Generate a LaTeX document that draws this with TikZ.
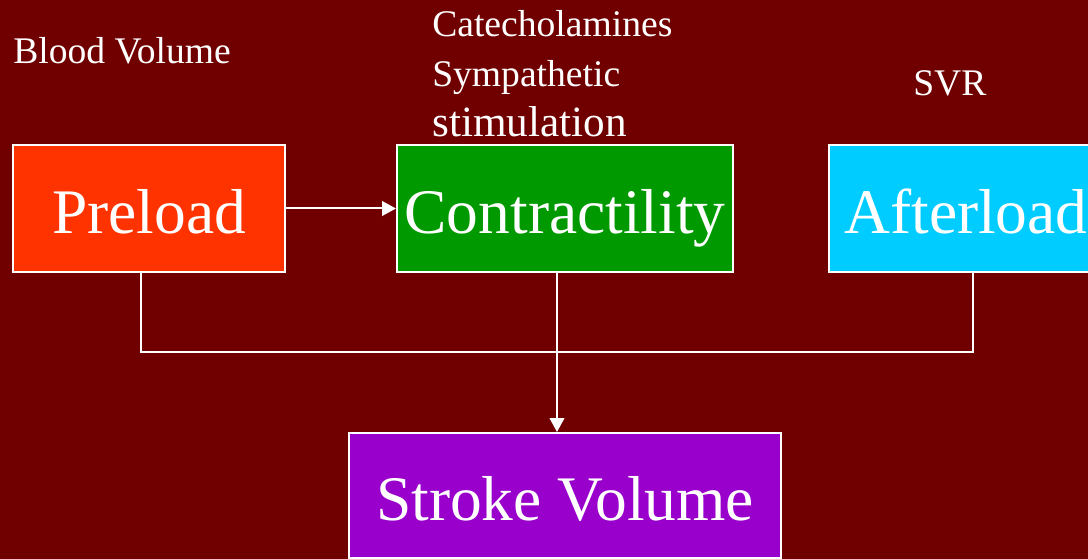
\documentclass[tikz,border=0pt]{standalone}
\usepackage{fontspec}
\setmainfont{Liberation Serif}
\usetikzlibrary{arrows.meta}
\definecolor{slidered}{RGB}{112,0,0}
\definecolor{preorange}{RGB}{255,51,0}
\definecolor{congreen}{RGB}{0,153,0}
\definecolor{aftcyan}{RGB}{0,204,255}
\definecolor{svpurple}{RGB}{153,0,204}
\tikzset{
    factor/.style={draw=white, line width=1.5pt, text=white, inner sep=0pt,
        minimum height=95.25pt, text height=36.8pt, text depth=0pt,
        font=\fontsize{47.6}{57}\selectfont},
    note/.style={text=white, inner sep=0pt, align=left,
        font=\fontsize{28.2}{37.5}\selectfont},
    link/.style={draw=white, line width=1.5pt},
    tip/.style={-{Triangle[length=10.5pt,width=11pt]}}
}
\begin{document}
\begin{tikzpicture}[x=0.75pt, y=-0.75pt]
        \fill[slidered] (0, 0) rectangle (1088, 559);
        \useasboundingbox (0, 0) rectangle (1088, 559);
        \node[note, anchor=base west] (blood) at (13, 64) {Blood Volume};
        \node[note, anchor=north west] (catech) at (432, 10) {Catecholamines\\Sympathetic\\{\fontsize{32.4}{37.5}\selectfont stimulation}};
        \node[note, anchor=base west] (svr) at (913, 96) {SVR};
        \node[factor, fill=preorange, minimum width=204pt] (pre) at (149, 208.5) {Preload};
        \node[factor, fill=congreen, minimum width=252pt] (con) at (565, 208.5) {Contractility};
        \node[factor, fill=aftcyan, minimum width=205.5pt] (aft) at (966, 208.5) {Afterload};
        \node[factor, fill=svpurple, minimum width=324pt, minimum height=93.75pt] (sv) at (565, 495.5) {Stroke Volume};
        \draw[link, tip] (pre.east) -- (con.west);
        \draw[link] (pre.south -| 141, 0) |- (973, 352) -- (aft.south -| 973, 0);
        \draw[link, tip] (con.south -| 557, 0) -- (sv.north -| 557, 0);
    \end{tikzpicture}
\end{document}
